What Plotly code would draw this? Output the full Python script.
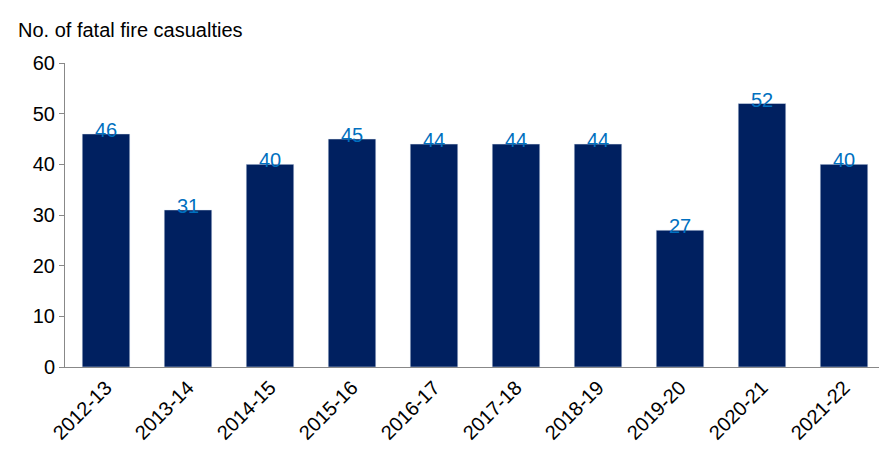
import plotly.graph_objects as go

years = ["2012-13","2013-14","2014-15","2015-16","2016-17","2017-18","2018-19","2019-20","2020-21","2021-22"]
casualties = [46, 31, 40, 45, 44, 44, 44, 27, 52, 40]

fig = go.Figure(go.Bar(x=years, y=casualties, marker_color="#002060", width=0.58))
anns = [dict(x=yr, y=v, text=str(v), xref="x", yref="y", yanchor="bottom", yshift=-9,
             showarrow=False, font=dict(color="#0070C0", size=20)) for yr, v in zip(years, casualties)]
anns.append(dict(text="No. of fatal fire casualties", x=0, y=1, xref="paper", yref="paper",
                 xanchor="left", yanchor="bottom", xshift=-49, yshift=20, showarrow=False,
                 font=dict(size=20)))
fig.update_layout(
    width=887, height=461, plot_bgcolor="white", paper_bgcolor="white",
    margin=dict(l=57, r=10, t=55, b=102, autoexpand=False),
    font=dict(family="Liberation Sans, Arial", size=20, color="black"),
    showlegend=False, annotations=anns,
)
fig.update_yaxes(range=[0, 60], dtick=10, showgrid=False, showline=True, linecolor="#888888",
                 ticks="outside", tickcolor="#888888", ticklen=5, zeroline=False, automargin=False)
fig.update_xaxes(showline=True, linecolor="#888888", tickangle=-45, showgrid=False, automargin=False)
fig.write_html("out.html")
